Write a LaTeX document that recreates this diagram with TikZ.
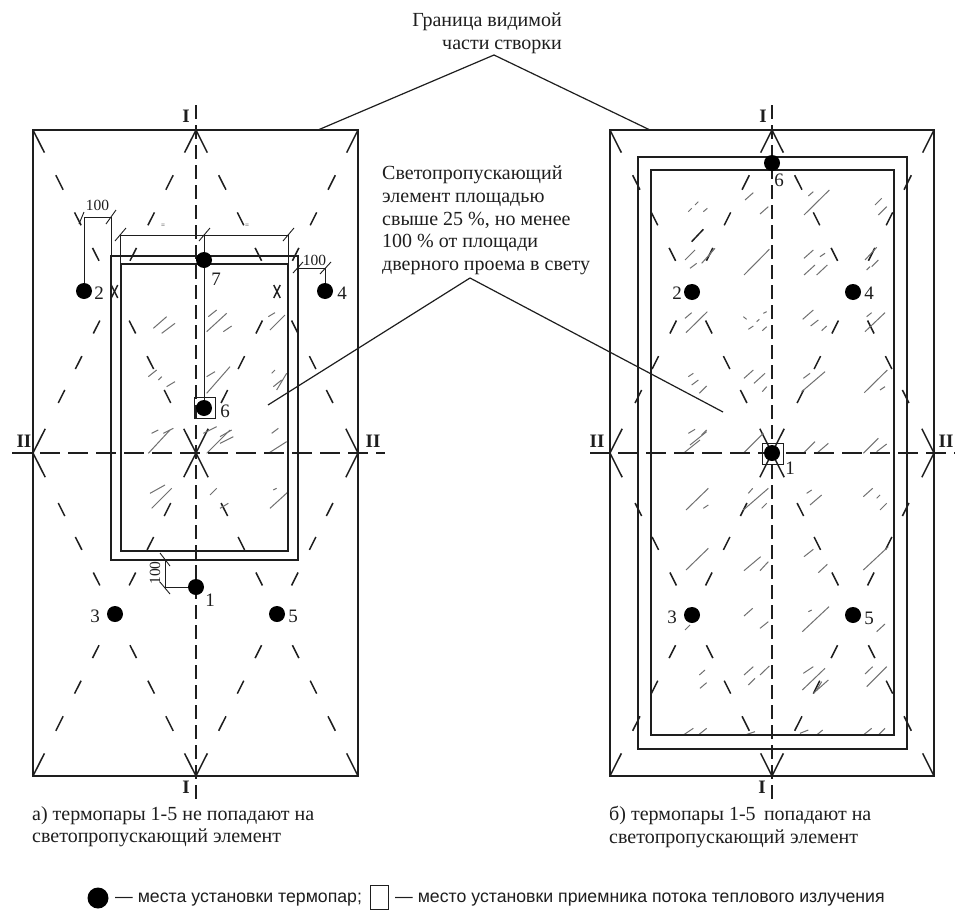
\documentclass[tikz,border=0pt]{standalone}
\usepackage{fontspec}
\setmainfont{Liberation Serif}
\setsansfont{Liberation Sans}
\usetikzlibrary{calc}
\definecolor{ink}{HTML}{1E1E1E}
\definecolor{glass}{HTML}{707070}
\tikzset{
 frame/.style={draw=ink,line width=2.3pt},
 thin dim/.style={draw=ink,line width=0.9pt},
 axisv/.style={draw=ink,line width=1.5pt,dash pattern=on 14pt off 6pt},
 axish/.style={draw=ink,line width=1.5pt,dash pattern=on 20pt off 8pt},
 leader/.style={draw=ink,line width=1.2pt},
 diag/.style={draw=ink,line width=1.5pt},
 glass stroke/.style={draw=glass,line width=1pt},
 dot/.style={circle,fill=black,inner sep=0pt,minimum size=16pt},
 lbl/.style={font=\fontsize{19}{19}\selectfont,text=ink,inner sep=0pt},
 txt/.style={font=\fontsize{20}{22.7}\selectfont,text=ink,inner sep=0pt,align=left},
 sec/.style={font=\bfseries\fontsize{19}{19}\selectfont,text=ink,inner sep=0pt},
 dimt/.style={font=\fontsize{15.5}{15.5}\selectfont,text=ink,inner sep=0pt},
 keyt/.style={font=\sffamily\fontsize{17.7}{17.7}\selectfont,text=ink,inner sep=0pt,anchor=west},
}
% dashed diagonal with the drawing's own dash spacing
\newcommand{\dashdiag}[2]{%
 \foreach \a/\b in {0/.07,.14/.185,.255/.295,.365/.405,.48/.52,.59/.63,.70/.74,.805/.845,.925/1}
  {\draw[diag] ($(#1)!\a!(#2)$) -- ($(#1)!\b!(#2)$);}}
\newcommand{\eightdiags}[9]{%
 \dashdiag{#1}{#5}\dashdiag{#2}{#5}\dashdiag{#3}{#5}\dashdiag{#4}{#5}
 \dashdiag{#6}{#7}\dashdiag{#6}{#8}\dashdiag{#9}{#7}\dashdiag{#9}{#8}}
\begin{document}
\begin{tikzpicture}[x=1pt,y=-1pt]
\useasboundingbox (0,0) rectangle (959,910);
\fill[white] (0,0) rectangle (959,910);
% ---------- left
\coordinate (LTL) at (33,130); \coordinate (LTR) at (358,130);
\coordinate (LBL) at (33,776); \coordinate (LBR) at (358,776);
\coordinate (LC) at (196,453); \coordinate (LT) at (196,130);
\coordinate (LB) at (196,776); \coordinate (LL) at (33,453); \coordinate (LR) at (358,453);
\eightdiags{LTL}{LTR}{LBL}{LBR}{LC}{LT}{LL}{LR}{LB}
% glass left
\begin{scope}[shift={(20,90)},scale=.33333]
\foreach \xa/\ya/\xb/\yb in {400/715/440/680,425/730/465/700,560/725/620/670,565/680/590/660,610/725/635/708,750/720/795/675,745/680/765/668,760/890/785/870,755/850/765/840,770/900/800/850,560/860/585/845,385/860/410/840,415/870/425/860,440/890/465/875,560/910/630/830,395/1030/415/1020,430/1030/460/1015,550/1030/590/1010,600/1040/635/1020,755/1030/775/1015,
 385/1090/450/1020,560/1090/630/1020,600/1060/640/1040,745/1090/800/1055,390/1210/435/1185,395/1255/455/1195,570/1215/590/1195,600/1255/625/1240,750/1255/805/1205,760/1200/770/1195}
 {\draw[glass stroke] (\xa,\ya) -- (\xb,\yb);}
\end{scope}
\draw[frame,line width=2.6pt] (LTL) rectangle (LBR);
\draw[frame] (111,256) rectangle (298,560);
\draw[frame] (121,264) rectangle (288,551);
\draw[axisv] (196,105) -- (196,800);
\draw[axish] (12,453) -- (385,453);
% ---------- right
\coordinate (RTL) at (610,130); \coordinate (RTR) at (934,130);
\coordinate (RBL) at (610,776); \coordinate (RBR) at (934,776);
\coordinate (RC) at (772,453); \coordinate (RT) at (772,130);
\coordinate (RB) at (772,776); \coordinate (RL) at (610,453); \coordinate (RR) at (934,453);
\eightdiags{RTL}{RTR}{RBL}{RBR}{RC}{RT}{RL}{RR}{RB}
\begin{scope}[shift={(600,90)},scale=.33333]
\foreach \xa/\ya/\xb/\yb in {265/365/275/355,285/345/295/335,310/365/322/355,435/330/460/308,480/372/505/350,625/318/640/305,612/375/688/300,825/345/845/325,835/375/860/350,255/510/285/480,270/535/290/520,305/520/345/475,325/500/340/478,432/555/508/478,612/505/640/480,612/555/645/525,650/555/682/525,660/500/675/490,795/510/830/472,815/530/835/510,800/540/810/530,255/685/275/668,258/728/322/665,430/680/440/688,445/718/460/708,470/695/478/688,487/722/500/710,490/670/500/665,608/688/640/660,632/708/655/690,665/722/680/708,800/680/815/668,795/725/855/668,432/865/460/840,462/880/495/850,487/905/500/890,275/885/295/870,298/910/320/888,265/860/280/850,610/865/630/850,605/905/675/845,793/908/862/840,840/900/855/890,265/1030/285/1018,305/1035/320/1020}
 {\draw[glass stroke] (\xa,\ya) -- (\xb,\yb);}
\draw[diag] (275,455) -- (310,418);
\end{scope}
\begin{scope}[shift={(600,430)},scale=.33333]
\foreach \xa/\ya/\xb/\yb in {250/70/300/30,270/45/320/5,430/70/490/10,610/70/645/35,650/70/685/40,790/70/835/25,830/65/860/42,258/240/325/175,310/235/325/225,430/240/505/175,485/235/500/220,445/190/458/175,630/225/665/195,620/190/635/180,790/200/818/175,830/205/840/195,840/240/860/220,258/420/325/355,432/422/482/380,480/422/505/395,612/380/640/358,655/428/682/403,790/420/865/350,432/558/458/535,480/595/505/575,607/605/687/530,625/545/635/540,255/600/270/585,830/605/855/582,298/735/315/720,300/775/320/758,432/735/460/710,445/765/465/745,480/735/508/708,610/730/640/710,607/780/675/715,640/790/685/750,650/780/665/755,795/732/818/710,800/770/860/710,250/915/280/895,295/915/320/895,435/915/465/905,600/910/625/900,650/915/668/900,790/915/815/895,835/915/855/895}
 {\draw[glass stroke] (\xa,\ya) -- (\xb,\yb);}
\end{scope}
\draw[frame] (RTL) rectangle (RBR);
\draw[frame] (638,157) rectangle (907,749);
\draw[frame] (651,170) rectangle (894,735);
\draw[axisv] (772,105) -- (772,800);
\draw[axish] (590,453) -- (955,453);
% ---------- dots left
\node[dot] (l2) at (84,291) {};
\node[dot] (l4) at (325,291) {};
\node[dot] (l3) at (115,614) {};
\node[dot] (l5) at (277,614) {};
\node[dot] (l1) at (196,587) {};
\node[dot] (l7) at (204,260) {};
\node[dot] (l6) at (204,408) {};
\node[draw=ink,line width=1pt,minimum size=21pt,inner sep=0pt] (l6box) at (204.5,408) {};
\draw[thin dim] (l7) -- (l6);
% dimensions
\coordinate (d2t) at (84,217); \coordinate (d2r) at (111,217); \coordinate (w1) at (111,256);
\draw[thin dim] (l2) -- (d2t) -- (d2r) -- (w1);
\draw[thin dim] (79,224) -- (84,212) (106,224) -- (116,210);
\node[dimt] (d100a) at (97.5,205) {100};
\coordinate (d3l) at (120,235); \coordinate (d3r) at (288,235); \coordinate (d3m) at (204,235);
\coordinate (w2) at (120,264); \coordinate (w3) at (288,264);
\draw[thin dim] (w2) -- (d3l) -- (d3r) -- (w3) (d3m) -- (l7);
\draw[thin dim] (115,241) -- (126,228) (199,241) -- (210,228) (283,241) -- (294,228);
\node[dimt,font=\fontsize{7}{7}\selectfont] (eqa) at (163,226) {=};
\node[dimt,font=\fontsize{7}{7}\selectfont] (eqb) at (247,226) {=};
\coordinate (d4a) at (298,268); \coordinate (d4b) at (325,268);
\draw[thin dim] (d4a) -- (d4b) -- (l4);
\draw[thin dim] (293,273) -- (303,262) (320,274) -- (331,262);
\node[dimt] (d100b) at (314.5,260) {100};
\coordinate (d1a) at (165,587); \coordinate (d1b) at (165,560);
\draw[thin dim] (l1) -- (d1a) -- (d1b);
\draw[thin dim] (160,553) -- (170,566) (160,582) -- (170,594);
\node[dimt,rotate=90] (d100c) at (155,573) {100};
% ---------- dots right
\node[dot] (r2) at (692,292) {};
\node[dot] (r4) at (853,292) {};
\node[dot] (r3) at (692,615) {};
\node[dot] (r5) at (853,615) {};
\node[dot] (r1) at (772,453) {};
\node[dot] (r6) at (772,163) {};
\node[draw=ink,line width=1pt,minimum size=21pt,inner sep=0pt] (r1box) at (772.5,453.5) {};
% labels
\node[lbl] (n2a) at (99,293) {2};
\node[lbl] (n4a) at (342,293) {4};
\node[lbl] (n3a) at (95,616) {3};
\node[lbl] (n5a) at (293,616) {5};
\node[lbl] (n1a) at (210,600) {1};
\node[lbl] (n7a) at (216,279) {7};
\node[lbl] (n6a) at (225,411) {6};
\node[lbl] (n2b) at (677,293) {2};
\node[lbl] (n4b) at (869,293) {4};
\node[lbl] (n3b) at (672,617) {3};
\node[lbl] (n5b) at (869,618) {5};
\node[lbl] (n1b) at (790,468) {1};
\node[lbl] (n6b) at (779,180) {6};
\node[sec] (s1) at (186,116) {I};
\node[sec] (s2) at (186,787) {I};
\node[sec] (s3) at (763,116) {I};
\node[sec] (s4) at (762,787) {I};
\node[sec] (s5) at (24,441) {II};
\node[sec] (s6) at (373,441) {II};
\node[sec] (s7) at (597,441) {II};
\node[sec] (s8) at (946,441) {II};
% callouts
\node[txt,anchor=north east,align=right] (c1) at (562,13) {Граница видимой\\части створки};
\coordinate (a1) at (494,55);
\draw[leader] (a1) -- (318,130);
\draw[leader] (a1) -- (650,130);
\node[txt,anchor=north west] (c2) at (382,166) {Светопропускающий\\элемент площадью\\свыше 25 \%, но менее\\100 \% от площади\\дверного проема в свету};
\coordinate (a2) at (470,278);
\draw[leader] (a2) -- (268,405);
\draw[leader] (a2) -- (723,412);
\node[txt,anchor=north west] (c3) at (32,806) {а) термопары 1-5 не попадают на\\светопропускающий элемент};
\node[txt,anchor=north west] (c4) at (609,806) {б) термопары 1-5\, попадают на\\светопропускающий элемент};
% legend
\node[dot,minimum size=21pt] (k1) at (98,898) {};
\node[keyt] (k2) at (115,900) {— места установки термопар;};
\node[draw=ink,line width=1pt,minimum width=18pt,minimum height=24pt,inner sep=0pt] (k3) at (379,897) {};
\node[keyt] (k4) at (395,900) {— место установки приемника потока теплового излучения};
\end{tikzpicture}
\end{document}
